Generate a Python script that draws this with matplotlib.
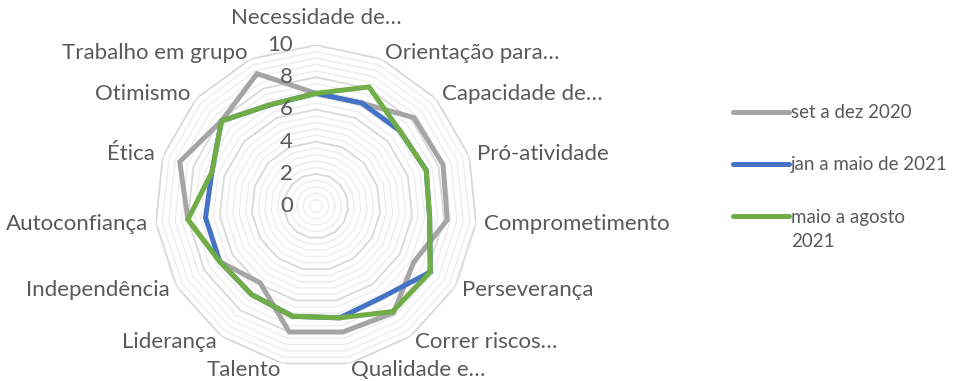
import numpy as np
import matplotlib
matplotlib.use("Agg")
import matplotlib.pyplot as plt

categories = ["Necessidade de…", "Orientação para…", "Capacidade de…", "Pró-atividade",
              "Comprometimento", "Perseverança", "Correr riscos…", "Qualidade e…",
              "Talento", "Liderança", "Independência", "Autoconfiança", "Ética",
              "Otimismo", "Trabalho em grupo"]
set_dez_2020 = [7.0, 7.0, 8.2, 8.3, 8.2, 7.0, 8.2, 8.0, 8.0, 5.9, 6.9, 8.0, 8.9, 7.9, 9.0]
jan_maio_2021 = [7.0, 7.0, 7.0, 7.2, 7.1, 8.2, 7.0, 7.1, 7.0, 6.8, 6.9, 6.9, 6.8, 7.9, 6.9]
maio_ago_2021 = [7.0, 8.1, 7.0, 7.2, 7.1, 8.2, 8.1, 7.1, 7.0, 6.8, 6.9, 8.0, 6.8, 7.9, 6.9]
series_names = ["set a dez 2020", "jan a maio de 2021", "maio a agosto 2021"]
series_colors = ["#A5A5A5", "#4472C4", "#70AD47"]
r_ticks = [0, 2, 4, 6, 8, 10]
r_max = 10
minor_step = 0.4

plt.rcParams['font.family'] = ['Lato', 'DejaVu Sans']
text_color = "#595959"

fig = plt.figure(figsize=(9.59, 3.81), dpi=100)
ax = fig.add_axes([0.1616, 0.0367, 0.3358, 0.845], projection='polar')
ax.set_theta_zero_location('N')
ax.set_theta_direction(-1)
ax.set_ylim(0, r_max)
ax.grid(False)
ax.spines['polar'].set_visible(False)
ax.set_xticks([])
ax.set_yticks([])
ax.patch.set_alpha(0)

n = len(categories)
angles = np.deg2rad(np.arange(n) * 360.0 / n)
closed = np.append(angles, angles[0])

# polygon gridlines
levels = np.arange(minor_step, r_max + 1e-9, minor_step)
for lvl in levels:
    is_major = abs(lvl / 2 - round(lvl / 2)) < 1e-6
    ax.plot(closed, [lvl] * (n + 1), color="#D9D9D9" if is_major else "#EDEDED",
            lw=1.3 if is_major else 1.0, zorder=1, solid_joinstyle='miter')

# series
lines = []
for vals, name, col in zip([set_dez_2020, jan_maio_2021, maio_ago_2021], series_names, series_colors):
    v = list(vals) + [vals[0]]
    ln, = ax.plot(closed, v, color=col, lw=3.6, label=name, zorder=3,
                  solid_joinstyle='miter', solid_capstyle='round')
    lines.append(ln)

# value tick labels
for t in r_ticks:
    ax.annotate(str(t), xy=(0, t), xytext=(-23, 0), textcoords='offset pixels',
                ha='right', va='center', fontsize=16, color=text_color,
                annotation_clip=False)

# category labels
for ang, lab in zip(angles, categories):
    s, c = np.sin(ang), np.cos(ang)
    if abs(s) < 1e-6:
        ha = 'center'
    elif s > 0:
        ha = 'left'
    else:
        ha = 'right'
    if abs(s) < 1e-6 and c > 0:
        off = (0, 27)
    else:
        off = (8 * s, 7 * c)
    ax.annotate(lab, xy=(ang, r_max), xytext=off, textcoords='offset pixels',
                ha=ha, va='center', fontsize=16, color=text_color,
                annotation_clip=False)

# legend: the last label wraps onto a second line (as in the original)
first_parts = []
rest_parts = []
for name in series_names:
    if name == "maio a agosto 2021":
        first_parts.append("maio a agosto")
        rest_parts.append("2021")
    else:
        first_parts.append(name)
        rest_parts.append("")

leg = fig.legend(handles=lines, labels=first_parts, loc='center left',
                 bbox_to_anchor=(0.747, 0.567), frameon=False, fontsize=13.5,
                 handlelength=3.0, handletextpad=0.08, labelspacing=1.87,
                 labelcolor=text_color)
leg.set_zorder(5)
for txt, rest in zip(leg.get_texts(), rest_parts):
    if rest:
        ann = plt.Annotation(rest, xy=(0, 0.5), xycoords=txt,
                             xytext=(0, -24), textcoords='offset pixels',
                             ha='left', va='center', fontsize=13.5,
                             color=text_color)
        ann.set_zorder(10)
        fig.add_artist(ann)

fig.savefig("out.png", dpi=100)
